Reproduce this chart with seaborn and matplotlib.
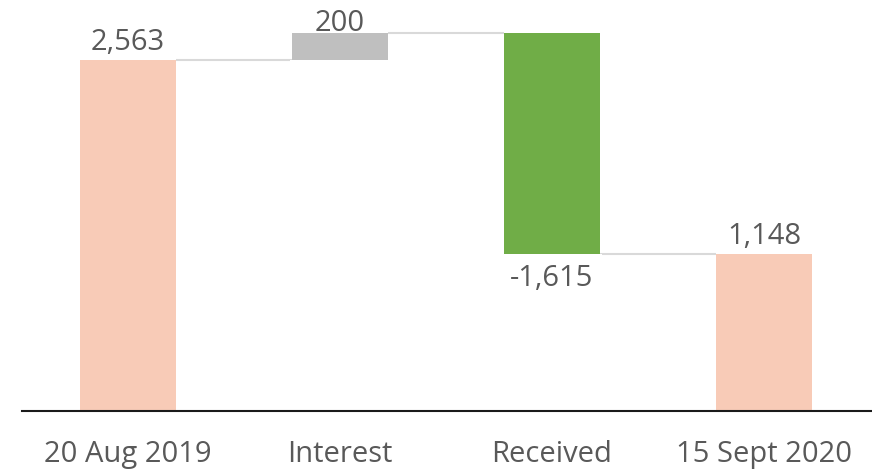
import numpy as np
import pandas as pd
import seaborn as sns
import matplotlib.pyplot as plt

categories = ['20 Aug 2019', 'Interest', 'Received', '15 Sept 2020']
changes = [2563, 200, -1615, 1148]
kinds = ['total', 'delta', 'delta', 'total']
colors = ['#F8CBB7', '#BFBFBF', '#70AD47', '#F8CBB7']
labels = ['2,563', '200', '-1,615', '1,148']

# running totals -> bar low/high
low, high, level = [], [], 0
for v, k in zip(changes, kinds):
    if k == 'total':
        low.append(0)
        high.append(v)
        level = v
    else:
        a, b = level, level + v
        low.append(min(a, b))
        high.append(max(a, b))
        level = b

df = pd.DataFrame({'cat': categories, 'low': low, 'high': high})

sns.set_style('white')
plt.rcParams['font.family'] = ['Open Sans', 'DejaVu Sans']

fig = plt.figure(figsize=(8.72, 4.72), dpi=100)
ax = fig.add_axes([22 / 872, 61 / 472, 850 / 872, 406 / 472])

sns.barplot(data=df, x='cat', y='high', hue='cat', palette=colors, legend=False,
            width=0.453, ax=ax, saturation=1, linewidth=0)
sns.barplot(data=df, x='cat', y='low', color='white', width=0.47, ax=ax,
            saturation=1, linewidth=0)

# connectors
hw = 0.453 / 2
ends = [high[0], high[1], low[2]]
for i, y in enumerate(ends):
    ax.hlines(y, i + hw, i + 1 - hw, color='#d9d9d9', lw=1.5, zorder=0)

ax.set_xlim(-0.5, 3.51)
ax.set_ylim(0, 2968)

txt = dict(ha='center', fontsize=21, color='#595959')
ax.text(0, high[0] + 25, labels[0], va='bottom', **txt)
ax.text(1, high[1] - 35, labels[1], va='bottom', **txt)
ax.text(2, low[2] - 75, labels[2], va='top', **txt)
ax.text(3, high[3] + 25, labels[3], va='bottom', **txt)

sns.despine(ax=ax, left=True, top=True, right=True)
ax.spines['bottom'].set_color('#1a1a1a')
ax.spines['bottom'].set_linewidth(1.5)
ax.set_yticks([])
ax.set_xlabel('')
ax.set_ylabel('')
ax.tick_params(axis='x', length=0, pad=21, labelsize=21, labelcolor='#595959')

fig.savefig('out.png', dpi=100)
